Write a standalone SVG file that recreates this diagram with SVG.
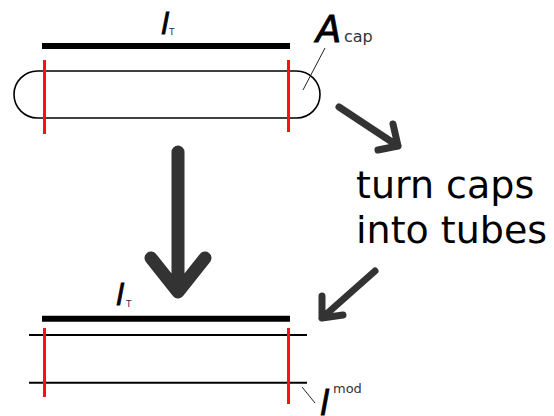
<svg xmlns="http://www.w3.org/2000/svg" width="554" height="416" viewBox="0 0 554 416">
<style>
.bar{stroke:#000;stroke-width:6;fill:none}
.red{stroke:#ff1010;stroke-width:3;fill:none}
.thin{stroke:#000;stroke-width:2;fill:none}
.lead{stroke:#222;stroke-width:1;fill:none}
.arr{stroke:#333;fill:none;stroke-linecap:round;stroke-linejoin:round}
.it{font-family:"DejaVu Sans",sans-serif;font-style:italic;fill:#000;stroke:#000;stroke-width:0.9}
.sub{font-family:"DejaVu Sans",sans-serif;fill:#333}
.big{font-family:"DejaVu Sans",sans-serif;font-size:38px;fill:#000}
</style>
<rect width="554" height="416" fill="#fff"/>
<g id="top-tube">
  <line class="bar" x1="42" y1="46" x2="290" y2="46"/>
  <text class="it" x="161" y="34" font-size="29">l</text>
  <text class="sub" x="169" y="35" font-size="9">T</text>
  <rect x="14" y="71" width="306" height="47" rx="23.5" ry="23.5" fill="none" stroke="#000" stroke-width="1.6"/>
  <line class="red" x1="44.5" y1="60" x2="44.5" y2="134"/>
  <line class="red" x1="288.5" y1="60" x2="288.5" y2="132"/>
  <line class="lead" x1="325" y1="48" x2="303" y2="90"/>
  <text class="it" x="316" y="42" font-size="37">A</text>
  <text class="sub" x="344" y="42" font-size="16">cap</text>
</g>
<g id="bottom-tube">
  <line class="bar" x1="42" y1="318.7" x2="290" y2="318.7"/>
  <text class="it" x="116" y="305" font-size="29">l</text>
  <text class="sub" x="126" y="307" font-size="9">T</text>
  <line class="thin" x1="29" y1="335" x2="307" y2="335"/>
  <line class="thin" x1="29" y1="382.7" x2="307" y2="382.7"/>
  <line class="red" x1="44.5" y1="328" x2="44.5" y2="397"/>
  <line class="red" x1="288.5" y1="328" x2="288.5" y2="404"/>
  <line class="lead" x1="302" y1="387" x2="315" y2="403"/>
  <text class="it" x="320" y="415" font-size="33">l</text>
  <text class="sub" x="333" y="393" font-size="13">mod</text>
</g>
<g id="label">
  <text class="big" x="356" y="198">turn caps</text>
  <text class="big" x="356" y="243">into tubes</text>
</g>
<g id="connectors">
  <path class="arr" stroke-width="13" d="M178,152 L178,291 M151,258 L178,292 L205,258"/>
  <path class="arr" stroke-width="7" d="M339,107 L398,146 M393,124 L398,146 L378,150"/>
  <path class="arr" stroke-width="7" d="M375,271 L322,318 M322,296 L322,318 L343,315"/>
</g>
</svg>
